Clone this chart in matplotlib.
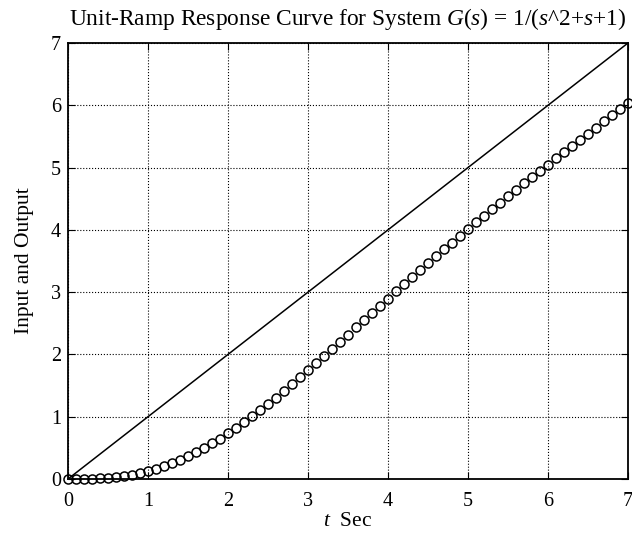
import matplotlib
matplotlib.use("Agg")
import matplotlib.pyplot as plt

plt.rcParams["font.family"] = ["Liberation Serif", "DejaVu Serif"]
plt.rcParams["mathtext.fontset"] = "custom"
plt.rcParams["mathtext.it"] = "Liberation Serif:italic"
plt.rcParams["mathtext.rm"] = "Liberation Serif"

# Input ramp
t_in = [0, 7]
u_in = [0, 7]

# Output samples, every 0.1 s
t_out = [i / 10 for i in range(71)]
y_out = [
    0.000, 0.0002, 0.0013, 0.0042, 0.0096, 0.0183, 0.0307, 0.0473, 0.0686, 0.0948,
    0.1262, 0.1629, 0.2051, 0.2527, 0.3057, 0.3641, 0.4277, 0.4965, 0.5702, 0.6485,
    0.7313, 0.8181, 0.9092, 1.0038, 1.1016, 1.2026, 1.3062, 1.4123, 1.5206, 1.6307,
    1.7424, 1.8554, 1.9696, 2.0846, 2.2002, 2.3162, 2.4325, 2.5487, 2.6649, 2.7808,
    2.8964, 3.0115, 3.1259, 3.2397, 3.3527, 3.4650, 3.5764, 3.6870, 3.7966, 3.9054,
    4.0133, 4.1204, 4.2265, 4.3318, 4.4364, 4.5401, 4.6431, 4.7454, 4.8470, 4.9481,
    5.0486, 5.1486, 5.2481, 5.3472, 5.4460, 5.5444, 5.6426, 5.7405, 5.8382, 5.9358,
    6.0333,
]

ticks = [0, 1, 2, 3, 4, 5, 6, 7]

fig = plt.figure(figsize=(6.32, 5.34), dpi=100)
ax = fig.add_axes([68 / 632, 1 - 479 / 534, 560 / 632, 436 / 534])

ax.plot(t_in, u_in, color="black", linewidth=1.1)
ax.plot(t_out, y_out, "o", markerfacecolor="none", markeredgecolor="black",
        markersize=6.5, markeredgewidth=1.1, clip_on=False)

ax.set_xlim(0, 7)
ax.set_ylim(0, 7)
ax.set_xticks(ticks)
ax.set_yticks(ticks)
ax.grid(True, linestyle=":", color="black", linewidth=0.8)
ax.tick_params(direction="in", top=True, right=True, labelsize=14.5, length=5)
ax.tick_params(axis="x", pad=9)
ax.tick_params(axis="y", pad=5)
for s in ax.spines.values():
    s.set_linewidth(1.3)

ax.set_title(r"Unit-Ramp Response Curve for System $G(s)$ = 1/($s$^2+$s$+1)",
             fontsize=16.8, pad=13)
ax.set_xlabel(r"$t$  Sec", fontsize=15.5, labelpad=1)
ax.set_ylabel("Input and Output", fontsize=15.5, labelpad=12)

fig.savefig("out.png", dpi=100)
